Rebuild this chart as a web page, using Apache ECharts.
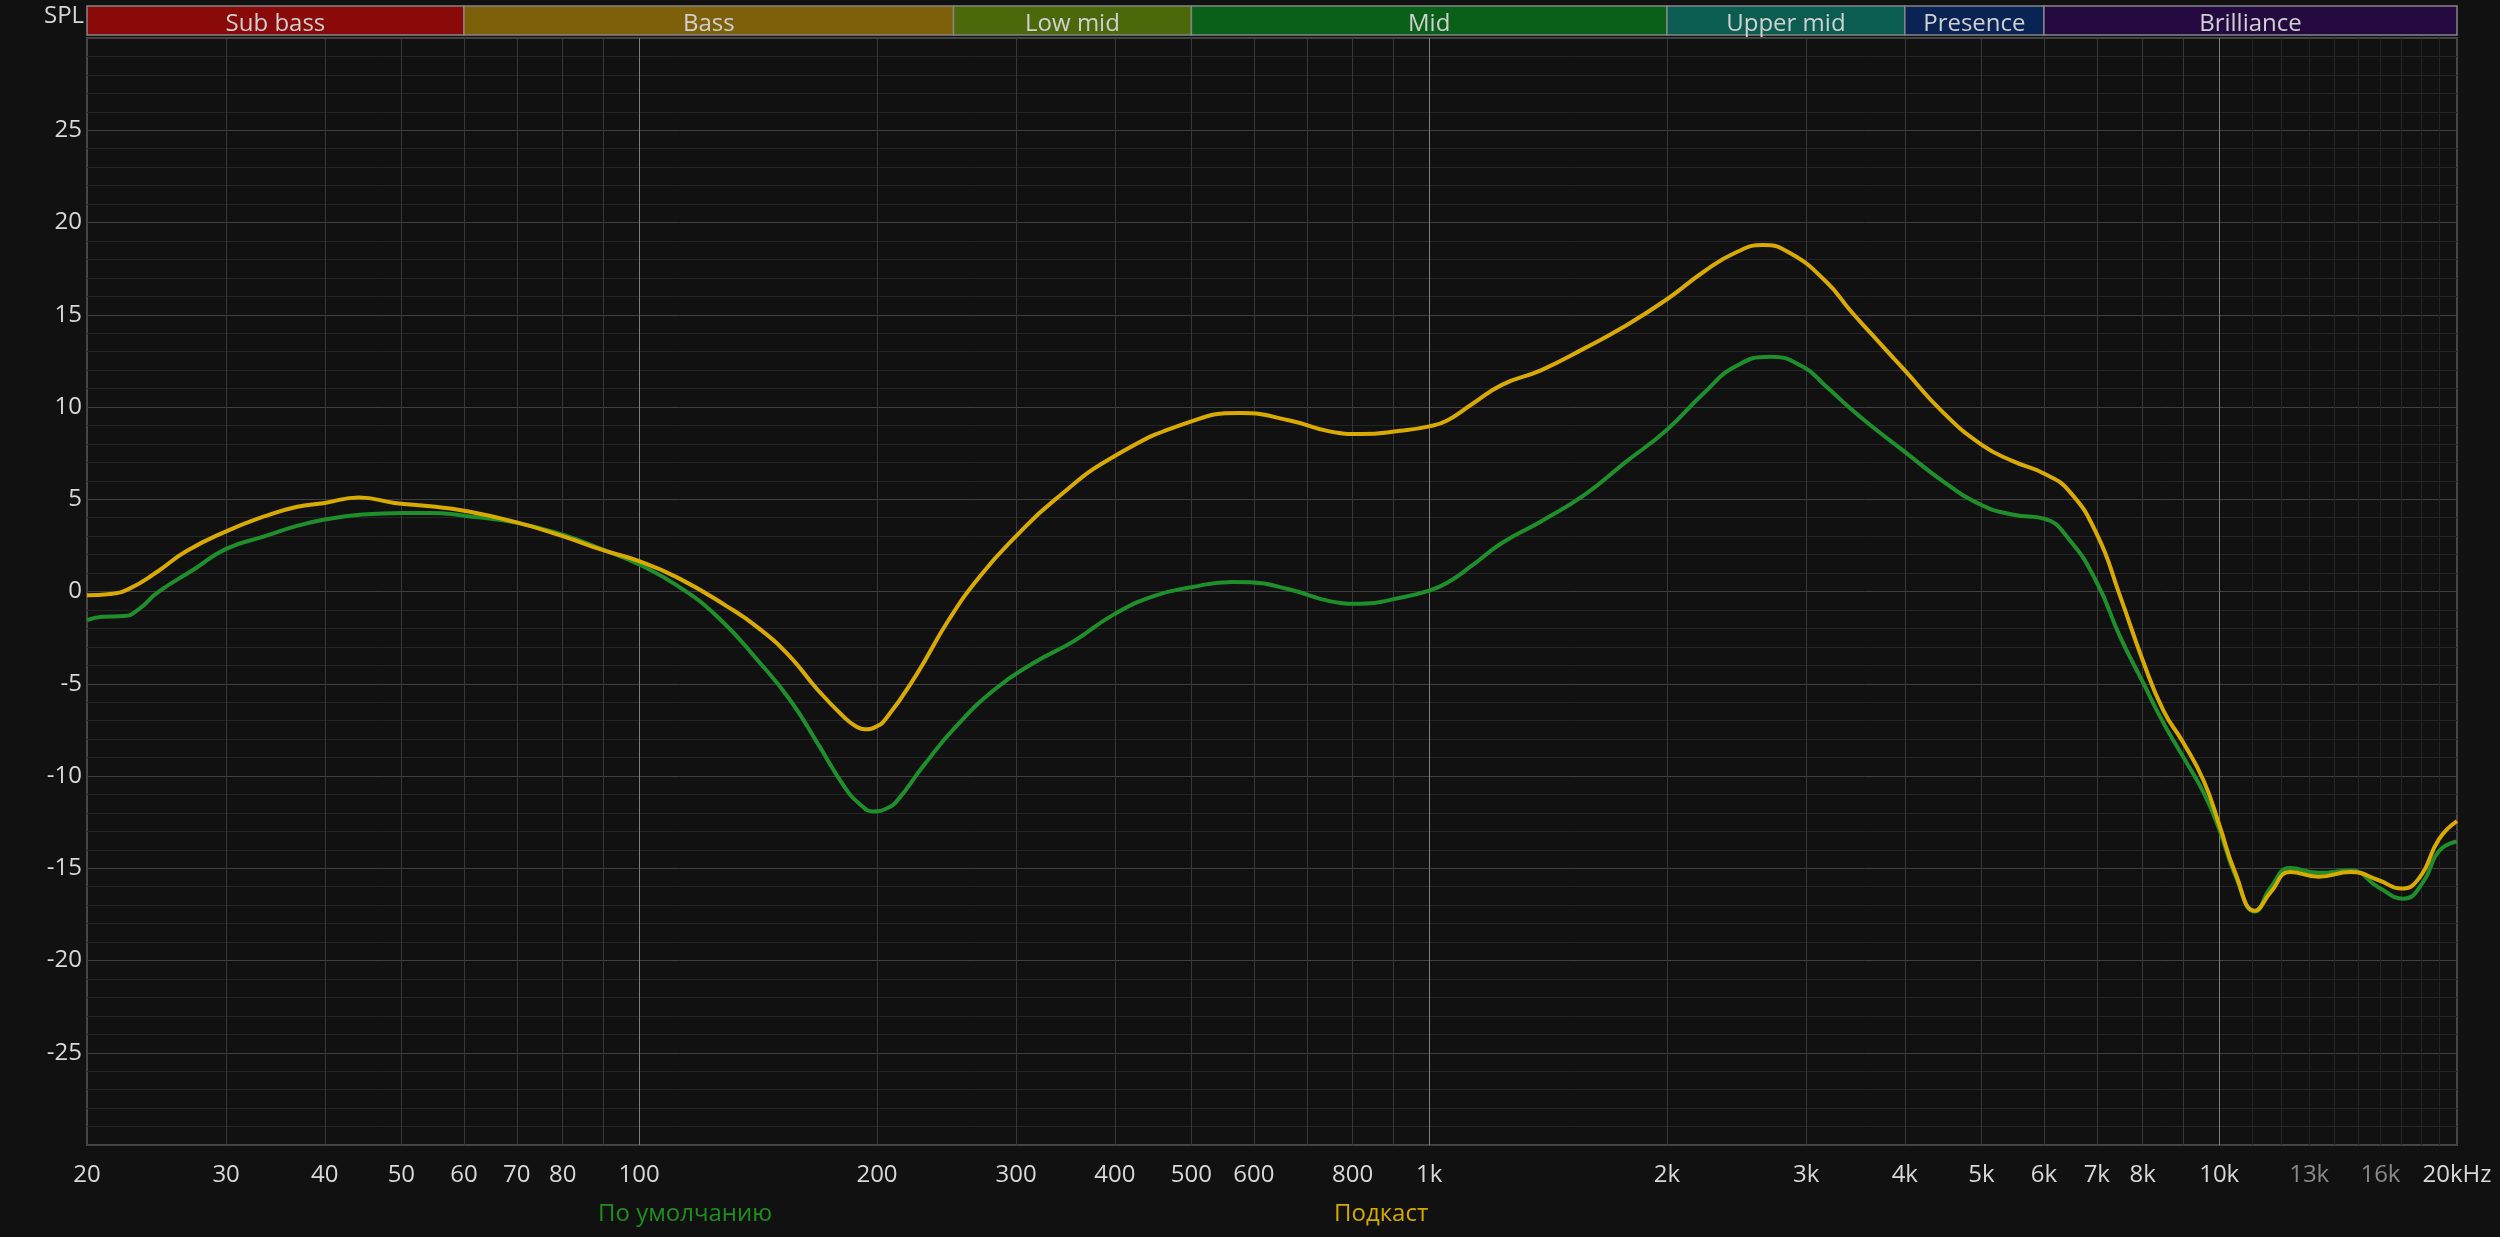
<!DOCTYPE html>
<html><head><meta charset="utf-8">
<script src="https://cdn.jsdelivr.net/npm/echarts@6/dist/echarts.min.js"></script>
<style>html,body{margin:0;padding:0;background:#111111;}#c{width:2500px;height:1237px;}</style>
</head><body><div id="c"></div>
<script>
// ---- axis ticks ----
const xTickLabels = [20,30,40,50,60,70,80,100,200,300,400,500,600,800,1000,2000,3000,4000,5000,6000,7000,8000,10000,13000,16000,20000];
const gridFreqs = [30,40,50,60,70,80,90,200,300,400,500,600,700,800,900,2000,3000,4000,5000,6000,7000,8000,9000];
const decadeFreqs = [100,1000,10000];
const fineFreqs = [11000,12000,13000,14000,15000,16000,17000,18000,19000];

// ---- frequency bands ----
const bandNames = ['Sub bass','Bass','Low mid','Mid','Upper mid','Presence','Brilliance'];
const bandStart = [20,60,250,500,2000,4000,6000];
const bandEnd   = [60,250,500,2000,4000,6000,20000];

// ---- series: По умолчанию ----
const defaultFreq = [20,20.9,22.3,23.2,24.6,27.3,30,33.6,36.8,40,44.6,50.3,54.4,60,70,80,90,100,112,126,141.5,155,168,182,190,198,206,212,229,251,282,316,355,399,448,500,563,593,666,748,819,919,1000,1054,1130,1236,1387,1574,1766,2000,2226,2440,2700,2970,3181,3408,3622,4000,4462,5000,5490,6000,6450,7000,7480,8000,8500,9000,9560,10000,10480,11100,11620,12300,13360,14670,15920,17100,18100,18980,20000];
const defaultDb = [-1.55,-1.37,-1.33,-1.0,-0.04,1.19,2.31,3.0,3.54,3.9,4.17,4.26,4.26,4.11,3.72,3.08,2.27,1.46,0.29,-1.42,-3.77,-5.84,-8.19,-10.6,-11.5,-11.92,-11.75,-11.35,-9.45,-7.38,-5.3,-3.86,-2.69,-1.24,-0.25,0.23,0.52,0.5,0.11,-0.52,-0.67,-0.34,0.05,0.47,1.37,2.63,3.81,5.25,6.96,8.77,10.75,12.19,12.73,12.19,11.11,9.94,9.0,7.57,6.0,4.69,4.16,3.95,2.85,0.49,-2.39,-4.89,-7.12,-8.95,-10.92,-12.89,-15.38,-17.35,-16.04,-14.99,-15.25,-15.12,-16.04,-16.65,-15.78,-14.07,-13.55];

// ---- series: Подкаст ----
const podcastFreq = [20,21.4,22.6,24.6,26.7,30,33.6,36.8,40,44.2,49,54.4,60,70,80,90,100,112,129,141.5,155,168,182,188,193,199,205,224.5,246,270,300,336,399,500,577,666,748,819,919,1000,1054,1130,1236,1387,1574,1766,2000,2226,2440,2645,2866,3181,3408,3622,4000,4462,5000,5490,6000,6450,7000,7480,8000,8500,9000,9560,10000,10480,11100,11620,12300,13360,14670,15920,17000,17920,18980,20000];
const podcastDb = [-0.2,-0.13,0.14,1.1,2.18,3.26,4.08,4.58,4.8,5.1,4.8,4.62,4.38,3.75,3.0,2.24,1.64,0.74,-0.79,-1.97,-3.5,-5.3,-6.84,-7.3,-7.47,-7.35,-6.93,-4.49,-1.6,0.83,3.0,4.98,7.32,9.22,9.67,9.27,8.68,8.53,8.71,8.95,9.27,10.12,11.2,12.0,13.19,14.36,15.84,17.33,18.36,18.78,18.33,16.79,15.26,14.0,11.98,9.75,7.96,7.05,6.39,5.47,3.11,-0.17,-3.71,-6.46,-8.17,-10.27,-12.63,-15.25,-17.3,-16.3,-15.2,-15.46,-15.2,-15.65,-16.1,-15.52,-13.42,-12.45];

const FONT = '"Open Sans", "Noto Sans", sans-serif';
const bandColors = ['#8a0909','#7f600a','#4b690b','#0b6019','#0b5c51','#0a2355','#240a40'];
const GREEN = '#1f8f2b', YELLOW = '#d9aa00';

const chart = echarts.init(document.getElementById('c'), null, {renderer: 'canvas'});

function fmt(v) {
  if (v === 20000) return '20kHz';
  if (v >= 1000) return (v / 1000) + 'k';
  return String(v);
}
const logX = {type: 'log', logBase: 10, min: 20, max: 20000};

chart.setOption({
  animation: false,
  backgroundColor: '#111111',
  title: {text: 'SPL', left: 44, top: 4, padding: 0,
    textStyle: {color: '#d6d6d6', fontSize: 24, fontWeight: 'normal', fontFamily: FONT}},
  legend: [
    {data: [{name: 'По умолчанию', textStyle: {color: '#1f8f1f'}}], left: 593, top: 1202,
     icon: 'none', itemWidth: 0, itemHeight: 0, padding: 0, selectedMode: false,
     textStyle: {fontSize: 24, fontFamily: FONT}},
    {data: [{name: 'Подкаст', textStyle: {color: '#d4aa00'}}], left: 1329, top: 1202,
     icon: 'none', itemWidth: 0, itemHeight: 0, padding: 0, selectedMode: false,
     textStyle: {fontSize: 24, fontFamily: FONT}}
  ],
  grid: [
    {left: 87, right: 43, top: 38, bottom: 92, show: true, backgroundColor: '#111111',
     borderColor: '#454545', borderWidth: 2, containLabel: false, outerBoundsMode: 'none'},
    {left: 87, right: 43, top: 6, height: 29, show: false, containLabel: false, outerBoundsMode: 'none'}
  ],
  xAxis: [
    Object.assign({}, logX, {gridIndex: 0, position: 'bottom',
      axisLine: {show: false}, axisTick: {show: false, customValues: gridFreqs},
      splitLine: {show: true, lineStyle: {color: '#393939', width: 1}},
      minorSplitLine: {show: false},
      axisLabel: {customValues: xTickLabels, formatter: fmt, fontSize: 24, fontFamily: FONT, margin: 18,
        color: function (v) { return (v === 13000 || v === 16000) ? '#8a8a8a' : '#d8d8d8'; }}}),
    Object.assign({}, logX, {gridIndex: 0, position: 'top',
      axisLine: {show: false}, axisTick: {show: false, customValues: decadeFreqs}, axisLabel: {show: false},
      splitLine: {show: true, lineStyle: {color: '#7c7c7c', width: 1}}}),
    Object.assign({}, logX, {gridIndex: 0, position: 'bottom', offset: 0,
      axisLine: {show: false}, axisTick: {show: false, customValues: fineFreqs}, axisLabel: {show: false},
      splitLine: {show: true, lineStyle: {color: '#242424', width: 1}}}),
    Object.assign({}, logX, {gridIndex: 1, show: false})
  ],
  yAxis: [
    {type: 'value', gridIndex: 0, min: -30, max: 30, interval: 5,
     axisLine: {show: false}, axisTick: {show: false},
     axisLabel: {fontSize: 24, fontFamily: FONT, color: '#d8d8d8', margin: 5, showMinLabel: false, showMaxLabel: false},
     splitLine: {show: true, lineStyle: {color: '#404040', width: 1}},
     minorTick: {show: false, splitNumber: 5},
     minorSplitLine: {show: true, lineStyle: {color: '#242424', width: 1}}},
    {type: 'value', gridIndex: 1, min: 0, max: 1, show: false}
  ],
  series: [
    {type: 'custom', xAxisIndex: 3, yAxisIndex: 1, silent: true,
     data: bandStart.map((s, i) => [s, bandEnd[i]]),
     encode: {x: [0, 1]},
     renderItem: function (params, api) {
       const i = params.dataIndex;
       const p0 = api.coord([api.value(0), 1]);
       const p1 = api.coord([api.value(1), 0]);
       return {type: 'group', children: [
         {type: 'rect', shape: {x: p0[0], y: p0[1], width: p1[0] - p0[0], height: p1[1] - p0[1]},
          style: {fill: bandColors[i], stroke: '#858585', lineWidth: 1.5}},
         {type: 'text', style: {text: bandNames[i], x: (p0[0] + p1[0]) / 2, y: (p0[1] + p1[1]) / 2 + 4,
          align: 'center', verticalAlign: 'middle', fill: '#d0d0d0', font: '24px ' + FONT}}
       ]};
     }},
    {name: 'По умолчанию', type: 'line', xAxisIndex: 0, yAxisIndex: 0, z: 3,
     data: defaultFreq.map((f, i) => [f, defaultDb[i]]),
     smooth: true, showSymbol: false, symbol: 'none',
     lineStyle: {color: GREEN, width: 4}, itemStyle: {color: GREEN}},
    {name: 'Подкаст', type: 'line', xAxisIndex: 0, yAxisIndex: 0, z: 4,
     data: podcastFreq.map((f, i) => [f, podcastDb[i]]),
     smooth: true, showSymbol: false, symbol: 'none',
     lineStyle: {color: YELLOW, width: 4}, itemStyle: {color: YELLOW}}
  ]
});
</script></body></html>
